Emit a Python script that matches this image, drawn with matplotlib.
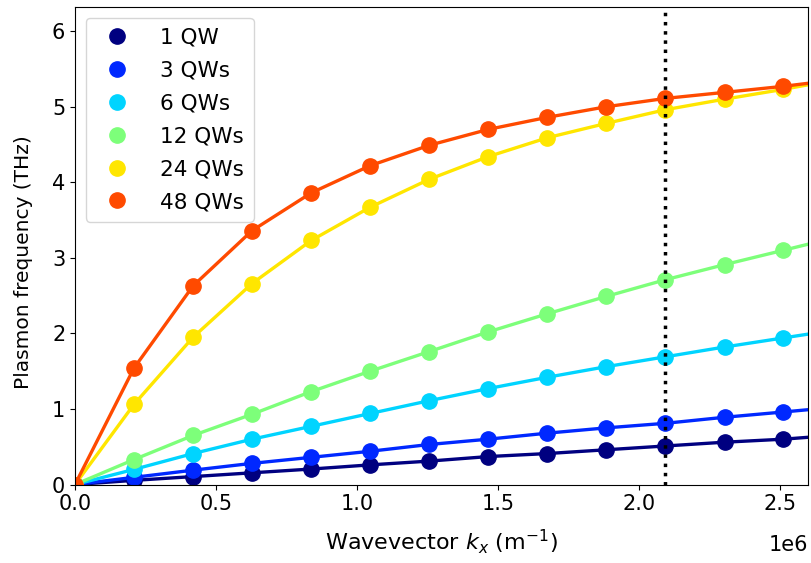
import numpy as np
import matplotlib; matplotlib.use('Agg')
import matplotlib.pyplot as plt

plt.rcParams.update({'font.family': 'DejaVu Sans', 'font.size': 15,
                     'xtick.labelsize': 15, 'ytick.labelsize': 15})

# wavevector samples (1/m) and plasmon frequencies (THz) per stack size
kx = np.array([0, 0.209, 0.419, 0.628, 0.838, 1.047, 1.257, 1.466, 1.676,
               1.885, 2.094, 2.304, 2.513]) * 1e6
k_edge = 2.6e6
labels = ['1 QW', '3 QWs', '6 QWs', '12 QWs', '24 QWs', '48 QWs']
f_1 = [0, 0.055, 0.105, 0.155, 0.205, 0.26, 0.31, 0.37, 0.41, 0.46, 0.51, 0.56, 0.60]
f_3 = [0, 0.095, 0.19, 0.28, 0.36, 0.44, 0.53, 0.60, 0.68, 0.75, 0.81, 0.89, 0.96]
f_6 = [0, 0.20, 0.41, 0.60, 0.77, 0.94, 1.11, 1.27, 1.42, 1.56, 1.69, 1.82, 1.94]
f_12 = [0, 0.33, 0.65, 0.93, 1.23, 1.50, 1.76, 2.02, 2.26, 2.49, 2.71, 2.91, 3.10]
f_24 = [0, 1.06, 1.95, 2.66, 3.23, 3.67, 4.04, 4.34, 4.59, 4.78, 4.96, 5.10, 5.23]
f_48 = [0, 1.54, 2.63, 3.36, 3.86, 4.22, 4.49, 4.70, 4.86, 5.00, 5.11, 5.19, 5.27]
f_edge = [0.625, 0.99, 1.99, 3.18, 5.29, 5.31]  # curve values at k_edge
k_mark = 2.094e6

colors = ['#000080', '#0028ff', '#00d4ff', '#7dff7a', '#ffe600', '#ff4a00']
series = [f_1, f_3, f_6, f_12, f_24, f_48]

fig, ax = plt.subplots(figsize=(8.12, 5.63), dpi=100)
fig.subplots_adjust(left=0.0924, right=0.995, top=0.9876, bottom=0.1394)

for f, fe, c, lab in zip(series, f_edge, colors, labels):
    ax.plot(np.append(kx, k_edge), np.append(f, fe), '-', color=c, lw=2.4)
    ax.plot(kx, f, 'o', color=c, ms=11, label=lab)

ax.axvline(k_mark, color='black', linestyle=':', lw=2.5)

ax.set_xlim(0, 2.6e6)
ax.set_ylim(0, 6.32)
ax.set_xlabel(r'Wavevector $k_x$ (m$^{-1}$)', fontsize=16, labelpad=9)
ax.set_ylabel('Plasmon frequency (THz)', fontsize=14.5)
ax.yaxis.set_label_coords(-0.058, 0.466)
ax.legend(loc='upper left', fontsize=15.5, labelspacing=0.6, borderpad=0.45,
          handletextpad=1.0)

# scale factor placed lower than the default offset text
ax.xaxis.get_offset_text().set_visible(False)
ax.text(1.0, -0.105, '1e6', transform=ax.transAxes, ha='right', va='top',
        fontsize=15)

plt.savefig('out.png', dpi=100)
